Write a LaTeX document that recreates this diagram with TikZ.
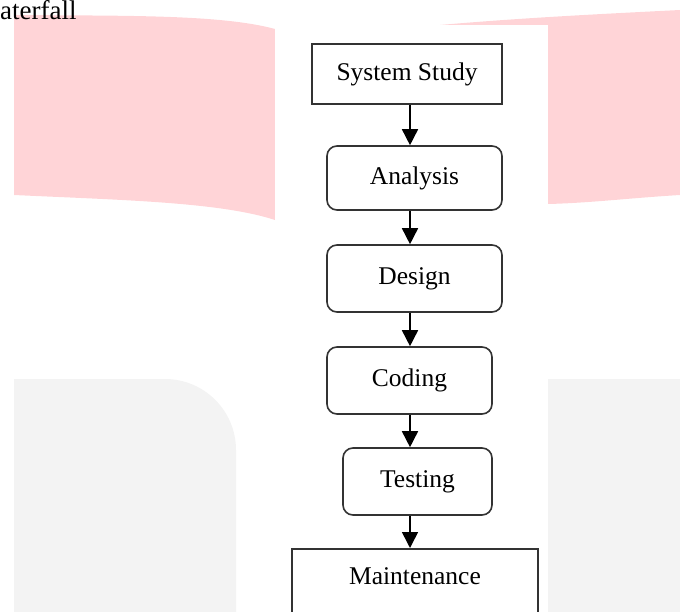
\documentclass[tikz,border=0pt]{standalone}
\usepackage{fontspec}
\setmainfont{Liberation Serif}
\usetikzlibrary{arrows.meta}
\definecolor{wpink}{HTML}{FFD4D7}
\definecolor{wgray}{HTML}{F3F3F3}
\definecolor{boxline}{HTML}{333333}
\tikzset{
  box/.style={draw=boxline, line width=1.6pt, fill=white, inner sep=0pt,
    font=\fontsize{25.5}{30}\selectfont, text=black},
  rbox/.style={box, rounded corners=10pt},
  arr/.style={draw=black, line width=1.6pt, -{Triangle[width=16pt,length=16pt]}}
}
\begin{document}
\begin{tikzpicture}[x=1pt,y=-1pt]
\useasboundingbox (0,0) rectangle (680,612);
\clip (0,0) rectangle (680,612);
% background watermark shapes
\fill[wpink] (14,15) .. controls (120,16) and (220,14) .. (275,29)
  -- (275,220) .. controls (220,202) and (120,200) .. (14,195) -- cycle;
\fill[wpink] (440,25) .. controls (520,18) and (600,14) .. (680,10)
  -- (680,195) .. controls (630,198) and (590,203) .. (548,204) -- (440,204) -- cycle;
\fill[wgray] (14,612) -- (14,379) [rounded corners=71pt] -- (236,379) [sharp corners] -- (236,612) -- cycle;
\fill[wgray] (548,379) rectangle (680,612);
\fill[white] (275,25) rectangle (548,612);
% title fragment
\node[anchor=base west, inner sep=0pt, font=\fontsize{27}{30}\selectfont] (title) at (0,19.5) {aterfall};
% flow
\coordinate (axis) at (410,0);
\node[box, minimum width=190pt, minimum height=60pt] (ss) at (407,74) {System Study};
\node[rbox, minimum width=175pt, minimum height=64pt] (an) at (414.5,178) {Analysis};
\node[rbox, minimum width=175pt, minimum height=67pt] (de) at (414.5,278.5) {Design};
\node[rbox, minimum width=165pt, minimum height=67pt] (co) at (409.5,380.5) {Coding};
\node[rbox, minimum width=149pt, minimum height=67pt] (te) at (417.5,481.5) {Testing};
\node[box, anchor=north, minimum width=246pt, text height=36pt, text depth=60pt] (ma) at (415,548) {Maintenance};
\draw[arr] (ss.south -| axis) -- (an.north -| axis);
\draw[arr] (an.south -| axis) -- (de.north -| axis);
\draw[arr] (de.south -| axis) -- (co.north -| axis);
\draw[arr] (co.south -| axis) -- (te.north -| axis);
\draw[arr] (te.south -| axis) -- (ma.north -| axis);
\end{tikzpicture}
\end{document}
